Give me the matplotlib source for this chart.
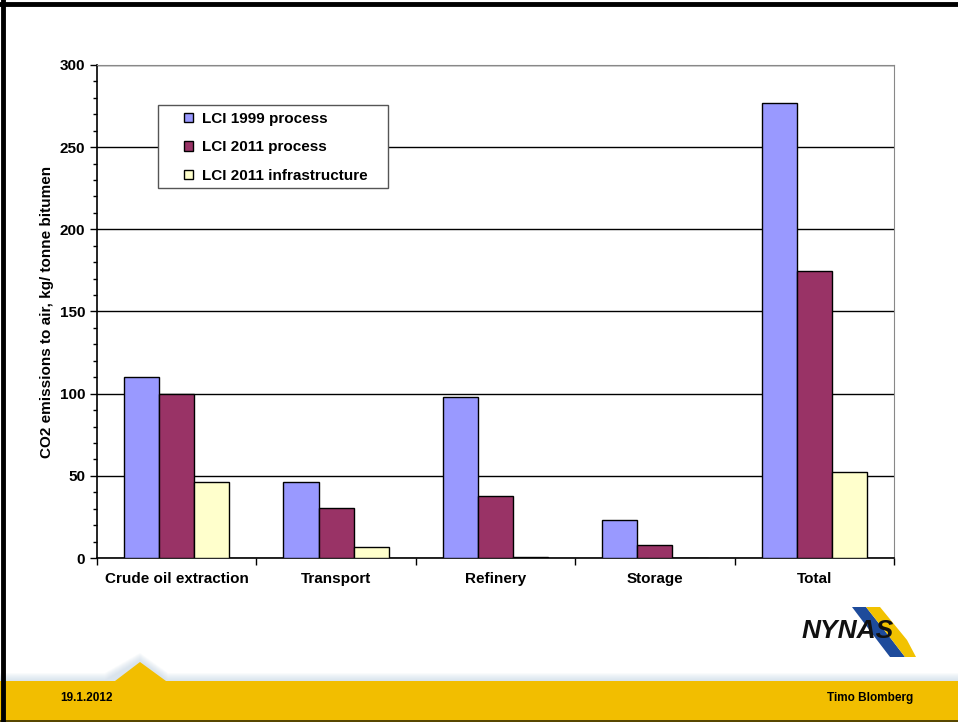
import numpy as np
import matplotlib.pyplot as plt
from matplotlib.patches import Polygon, Rectangle

categories = ["Crude oil extraction", "Transport", "Refinery", "Storage", "Total"]
lci_1999 = [110, 46, 98, 23, 277]
lci_2011 = [99.5, 30.5, 37.5, 8, 174.5]
lci_2011_infra = [46, 6.5, 0.5, 0, 52.5]
series_names = ["LCI 1999 process", "LCI 2011 process", "LCI 2011 infrastructure"]
colors = ["#9999FF", "#993366", "#FFFFCC"]

plt.rcParams['font.family'] = ['Liberation Sans', 'DejaVu Sans']

fig = plt.figure(figsize=(9.58, 7.22), dpi=100)

# slide decoration: footer band, border
bg = fig.add_axes([0, 0, 1, 1])
bg.set_xlim(0, 958)
bg.set_ylim(722, 0)
bg.axis("off")
# soft shadow above the band
for i in range(8):
    bg.add_patch(Polygon([(0, 680 - i), (105, 680 - i), (140, 660 - i), (168, 680 - i), (958, 680 - i),
                          (958, 722), (0, 722)], closed=True, color="#B9CDE0", alpha=0.08, lw=0))
bg.add_patch(Polygon([(0, 681), (115, 681), (140, 662), (166, 681), (958, 681), (958, 722), (0, 722)],
                     closed=True, color="#F2BE00", lw=0))
bg.plot([0, 958], [721, 721], color="#3a3000", lw=1.2)
bg.plot([0, 958], [4, 4], color="black", lw=3.5)
bg.plot([3, 3], [0, 722], color="black", lw=3.5)
bg.text(60, 698, "19.1.2012", fontsize=8.5, fontweight="bold", va="center", ha="left")
bg.text(913, 698, "Timo Blomberg", fontsize=8.5, fontweight="bold", va="center", ha="right")
# logo
bg.add_patch(Polygon([(852, 607), (866, 607), (892, 640), (877, 640)], closed=True, color="#1E4B9B", lw=0))
bg.add_patch(Polygon([(866, 607), (880, 607), (907, 640), (892, 640)], closed=True, color="#F2C200", lw=0))
bg.add_patch(Polygon([(877, 640), (892, 640), (905, 657), (890, 657)], closed=True, color="#1E4B9B", lw=0))
bg.add_patch(Polygon([(892, 640), (907, 640), (916, 657), (905, 657)], closed=True, color="#F2C200", lw=0))
bg.text(848, 631, "NYNAS", fontsize=19, fontweight="heavy", fontstyle="italic", ha="center", va="center",
        color="#111111")

ax = fig.add_axes([97 / 958, 1 - 558 / 722, (894 - 97) / 958, (558 - 65) / 722])
x = np.arange(len(categories))
w = 0.22
for k, (vals, name, c) in enumerate(zip([lci_1999, lci_2011, lci_2011_infra], series_names, colors)):
    ax.bar(x + (k - 1) * w, vals, width=w, color=c, edgecolor="black", linewidth=1, label=name, zorder=3)

ax.set_xlim(-0.5, len(categories) - 0.5)
ax.set_ylim(0, 300)
ax.set_yticks(range(0, 301, 50))
ax.set_yticks(range(0, 301, 10), minor=True)
ax.yaxis.grid(True, color="black", lw=1, zorder=0)
ax.set_xticks(x)
ax.set_xticklabels(categories, fontsize=11, fontweight="bold")
ax.set_xticks(np.arange(-0.5, len(categories)), minor=True)
ax.tick_params(axis="x", which="major", length=0, pad=10)
ax.tick_params(axis="x", which="minor", length=5, direction="out", width=1)
ax.tick_params(axis="y", which="major", length=5, direction="out", labelsize=11, width=1)
ax.tick_params(axis="y", which="minor", length=3, direction="out", width=1)
for lab in ax.get_yticklabels():
    lab.set_fontweight("bold")
ax.spines["top"].set_color("#888888")
ax.spines["right"].set_color("#888888")
ax.spines["left"].set_linewidth(1.2)
ax.spines["bottom"].set_linewidth(1.2)
ax.set_ylabel("CO2 emissions to air, kg/ tonne bitumen", fontsize=11, fontweight="bold", labelpad=4)

# legend box drawn separately so its padding can match the slide
ax.add_patch(Rectangle((0.0765, 0.7505), 0.2885, 0.1684, transform=ax.transAxes, facecolor="white",
                       edgecolor="#555555", lw=1, zorder=4))
leg = ax.legend(loc="center", bbox_to_anchor=(0.224, 0.833), frameon=False,
                prop={"weight": "bold", "size": 11}, handlelength=0.6, handleheight=0.6,
                handletextpad=0.6, borderpad=0, labelspacing=0.95, borderaxespad=0)
leg.set_zorder(5)

fig.savefig("out.png", dpi=100)
